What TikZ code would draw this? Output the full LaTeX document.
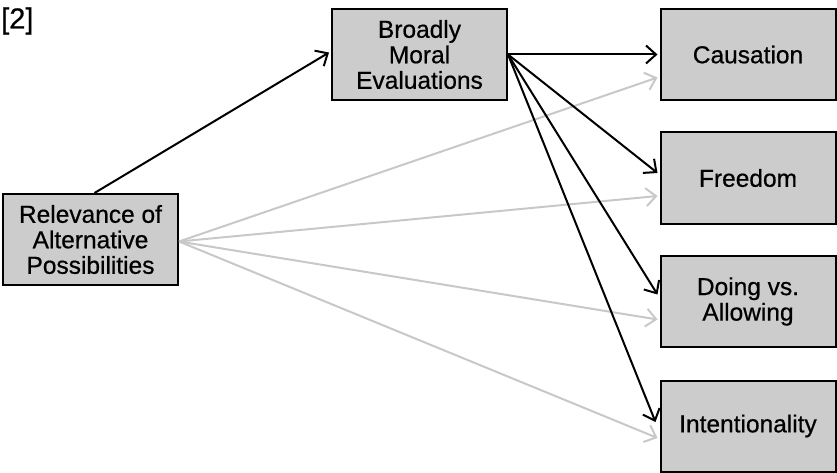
\documentclass[tikz,border=0pt]{standalone}
\usepackage{fontspec}
\setmainfont{Liberation Sans}[FakeBold=0.6]
\newfontfamily\boxfont{Liberation Sans}[FakeBold=0.6]
\usetikzlibrary{arrows.meta}
\definecolor{boxgray}{RGB}{204,204,204}
\definecolor{linegray}{RGB}{200,200,200}

\begin{document}
\begin{tikzpicture}[x=1pt,y=-1pt]
    \tikzstyle{every node}=[font=\boxfont\fontsize{24.5}{25.5}\selectfont\addfontfeature{FakeBold=0.6}]
    \tikzstyle{factor}=[draw=black,line width=2pt,fill=boxgray,minimum width=175pt,minimum height=91pt,align=center,inner sep=0pt]
    \tikzstyle{dark}=[black,line width=2pt,-{Straight Barb[length=10pt,width=18pt,line width=2pt]}]
    \tikzstyle{light}=[linegray,line width=2pt,-{Straight Barb[length=10pt,width=18pt,line width=2pt]}]
    \useasboundingbox (0,0) rectangle (837,473);
    \draw node(lbl)[anchor=west,inner sep=0pt,font=\boxfont\fontsize{29}{30}\selectfont\addfontfeature{FakeBold=0.6}]at(1,21){[2]}
          node(rel)[factor]at(90.5,239.5){Relevance of\\Alternative\\Possibilities}
          node(moral)[factor]at(419.5,54.5){Broadly\\Moral\\Evaluations}
          node(caus)[factor]at(748,54.5){Causation}
          node(free)[factor]at(748,178){Freedom}
          node(doing)[factor]at(748,301.5){Doing vs.\\Allowing}
          node(intent)[factor]at(748,426){Intentionality};
    % grey paths from the alternatives
    \draw[light]([yshift=-2pt]rel.east)--([yshift=-23pt,xshift=-2pt]caus.west);
    \draw[light]([yshift=-2pt]rel.east)--([yshift=-18pt,xshift=-2pt]free.west);
    \draw[light]([yshift=-2pt]rel.east)--([yshift=-18pt,xshift=-2pt]doing.west);
    \draw[light]([yshift=-2pt]rel.east)--([yshift=-12pt,xshift=-2pt]intent.west);
    % black paths through moral evaluations
    \draw[dark]([xshift=4pt]rel.north)--([xshift=-2pt,yshift=2pt]moral.west);
    \draw[dark](moral.east)--([xshift=-2pt]caus.west);
    \draw[dark](moral.east)--([yshift=5pt,xshift=-2pt]free.west);
    \draw[dark](moral.east)--([yshift=7pt,xshift=-2pt]doing.west);
    \draw[dark](moral.east)--([yshift=4pt,xshift=-4pt]intent.west);
  \end{tikzpicture}
\end{document}
